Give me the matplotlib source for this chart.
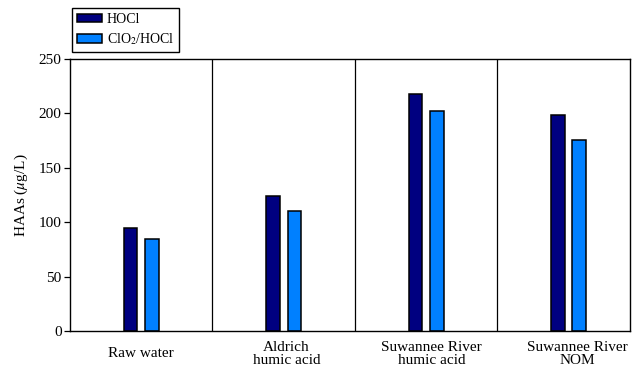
import numpy as np
from matplotlib import pyplot as plt
from matplotlib.transforms import blended_transform_factory

plt.rcParams['font.family'] = ['Liberation Serif', 'DejaVu Serif']
plt.rcParams['mathtext.fontset'] = 'stix'
plt.rcParams['font.size'] = 10

CATEGORIES = ['Raw water', 'Aldrich\nhumic acid',
              'Suwannee River\nhumic acid', 'Suwannee River\nNOM']
HOCL = [95, 124, 218, 199]
CLO2_HOCL = [85, 110, 202, 176]
SERIES_NAMES = ['HOCl', 'ClO$_2$/HOCl']

DARK = '#000080'
LIGHT = '#0080ff'
WIDTH = 0.095
OFFSET = 0.075


def main():
    fig = plt.figure(figsize=(6.39, 3.69), dpi=100)
    ax = fig.add_axes([0.1096, 0.103, 0.876, 0.737])

    x = np.arange(len(CATEGORIES))
    ax.bar(x - OFFSET, HOCL, WIDTH, color=DARK, edgecolor='black',
           linewidth=1.1, label=SERIES_NAMES[0])
    ax.bar(x + OFFSET, CLO2_HOCL, WIDTH, color=LIGHT, edgecolor='black',
           linewidth=1.1, label=SERIES_NAMES[1])

    # panel dividers
    for xd in x[:-1] + 0.5:
        ax.axvline(xd, color='black', lw=0.9)

    ax.set_xlim(-0.5, 3.43)
    ax.set_ylim(0, 250)
    ax.set_yticks([0, 50, 100, 150, 200, 250])
    ax.tick_params(axis='y', direction='out', length=4, width=0.9, pad=2,
                   labelsize=11)
    ax.set_xticks([])

    trans = blended_transform_factory(ax.transData, ax.transAxes)
    shifts = [0, 0.02, 0.04, 0.06]
    for xi, lab, s in zip(x, CATEGORIES, shifts):
        ax.text(xi + s, -0.083, lab, transform=trans, ha='center',
                va='center', fontsize=11, linespacing=1.0)

    for sp in ax.spines.values():
        sp.set_linewidth(1.0)

    ax.set_ylabel(r'HAAs ($\mu$g/L)', fontsize=11, labelpad=6)

    fig.legend(loc='upper left', bbox_to_anchor=(72 / 639, 1 - 8 / 369),
               fontsize=10, frameon=True, fancybox=False, edgecolor='black',
               framealpha=1, handlelength=1.8, handleheight=0.55,
               handletextpad=0.35, labelspacing=0.4, borderpad=0.35,
               borderaxespad=0)

    fig.savefig('out.png', dpi=100)


main()
